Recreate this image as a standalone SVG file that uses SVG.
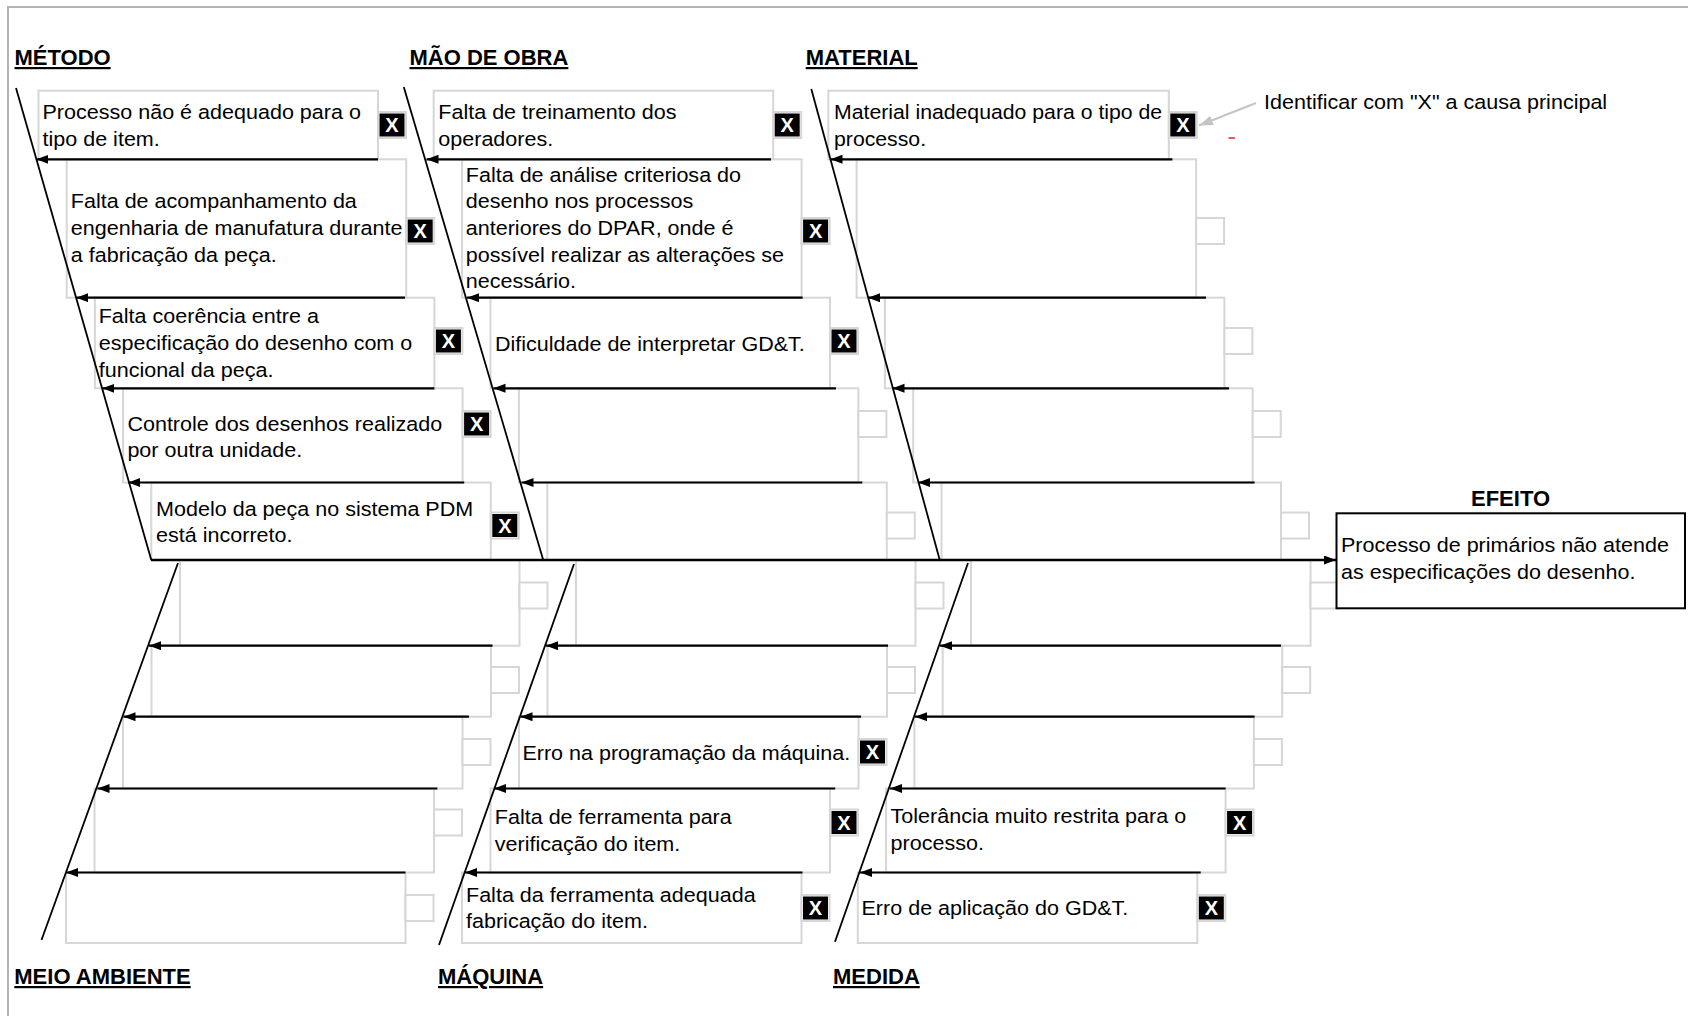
<svg xmlns="http://www.w3.org/2000/svg" width="1688" height="1016" viewBox="0 0 1688 1016">
<defs>
<marker id="ah" markerUnits="userSpaceOnUse" markerWidth="13" markerHeight="10" refX="12" refY="4.5" orient="auto"><path d="M0,0 L12,4.5 L0,9 z" fill="#000"/></marker>
<marker id="ahg" markerUnits="userSpaceOnUse" markerWidth="15" markerHeight="11" refX="14" refY="5" orient="auto"><path d="M0,0 L14,5 L0,10 z" fill="#c4c4c4"/></marker>
</defs>
<style>
.box{fill:none;stroke:#d6d6d6;stroke-width:2}
.mk{fill:#fff;stroke:#d6d6d6;stroke-width:2}
.mkf{fill:#000}
.xl{font-family:"Liberation Sans",Arial,sans-serif;font-weight:bold;font-size:20px;fill:#fff;text-anchor:middle}
.t{font-family:"Liberation Sans",Arial,sans-serif;font-size:19.5px;fill:#000}
.ttl{font-family:"Liberation Sans",Arial,sans-serif;font-weight:bold;font-size:22px;fill:#000;text-decoration:underline}
.eff{font-family:"Liberation Sans",Arial,sans-serif;font-weight:bold;font-size:22px;fill:#000}
.bone{stroke:#000;stroke-width:1.8;fill:none}
.rib{stroke:#000;stroke-width:2.2;fill:none;marker-end:url(#ah)}
</style>
<rect x="0" y="0" width="1688" height="1016" fill="#fff"/>
<path d="M8,1016 V7 H1688" fill="none" stroke="#b4b4b4" stroke-width="2"/>

<g id="titles">
<text class="ttl" x="14.5" y="65">MÉTODO</text>
<text class="ttl" x="409.5" y="65">MÃO DE OBRA</text>
<text class="ttl" x="805.7" y="65">MATERIAL</text>
<text class="ttl" x="14.3" y="984">MEIO AMBIENTE</text>
<text class="ttl" x="438" y="984">MÁQUINA</text>
<text class="ttl" x="833" y="984">MEDIDA</text>
</g>

<!-- MÉTODO -->
<g id="metodo-1"><rect class="box" x="38.5" y="90.7" width="339.5" height="68.6"/><rect class="mk" x="378" y="112" width="28" height="26"/><rect class="mkf" x="379.5" y="113.5" width="25" height="23"/><text class="xl" x="392" y="132.2">X</text>
<text class="t" transform="translate(42.5,119) scale(1.105,1)"><tspan x="0" y="0">Processo não é adequado para o</tspan><tspan x="0" y="26.7">tipo de item.</tspan></text></g>
<g id="metodo-2"><rect class="box" x="66.7" y="159.3" width="339.5" height="138.4"/><rect class="mk" x="406.2" y="218" width="28" height="26"/><rect class="mkf" x="407.7" y="219.5" width="25" height="23"/><text class="xl" x="420.2" y="238.2">X</text>
<text class="t" transform="translate(70.8,208.3) scale(1.105,1)"><tspan x="0" y="0">Falta de acompanhamento da</tspan><tspan x="0" y="26.7">engenharia de manufatura durante</tspan><tspan x="0" y="53.4">a fabricação da peça.</tspan></text></g>
<g id="metodo-3"><rect class="box" x="94.9" y="297.7" width="339.5" height="90.6"/><rect class="mk" x="434.4" y="328" width="28" height="26"/><rect class="mkf" x="435.9" y="329.5" width="25" height="23"/><text class="xl" x="448.4" y="348.2">X</text>
<text class="t" transform="translate(98.7,323.3) scale(1.105,1)"><tspan x="0" y="0">Falta coerência entre a</tspan><tspan x="0" y="26.7">especificação do desenho com o</tspan><tspan x="0" y="53.4">funcional da peça.</tspan></text></g>
<g id="metodo-4"><rect class="box" x="123.1" y="388.3" width="339.5" height="94.2"/><rect class="mk" x="462.6" y="411" width="28" height="26"/><rect class="mkf" x="464.1" y="412.5" width="25" height="23"/><text class="xl" x="476.6" y="431.2">X</text>
<text class="t" transform="translate(127.4,430.7) scale(1.105,1)"><tspan x="0" y="0">Controle dos desenhos realizado</tspan><tspan x="0" y="26.7">por outra unidade.</tspan></text></g>
<g id="metodo-5"><rect class="box" x="151.3" y="482.5" width="339.5" height="77.5"/><rect class="mk" x="490.8" y="512.5" width="28" height="26"/><rect class="mkf" x="492.3" y="514" width="25" height="23"/><text class="xl" x="504.8" y="532.7">X</text>
<text class="t" transform="translate(156.1,515.7) scale(1.105,1)"><tspan x="0" y="0">Modelo da peça no sistema PDM</tspan><tspan x="0" y="26.7">está incorreto.</tspan></text></g>

<!-- MÃO DE OBRA -->
<g id="mao-1"><rect class="box" x="433.7" y="90.7" width="339.5" height="68.6"/><rect class="mk" x="773.2" y="112" width="28" height="26"/><rect class="mkf" x="774.7" y="113.5" width="25" height="23"/><text class="xl" x="787.2" y="132.2">X</text>
<text class="t" transform="translate(438.3,119) scale(1.105,1)"><tspan x="0" y="0">Falta de treinamento dos</tspan><tspan x="0" y="26.7">operadores.</tspan></text></g>
<g id="mao-2"><rect class="box" x="462.1" y="159.3" width="339.5" height="138.4"/><rect class="mk" x="801.6" y="218" width="28" height="26"/><rect class="mkf" x="803.1" y="219.5" width="25" height="23"/><text class="xl" x="815.6" y="238.2">X</text>
<text class="t" transform="translate(465.8,181.7) scale(1.105,1)"><tspan x="0" y="0">Falta de análise criteriosa do</tspan><tspan x="0" y="26.7">desenho nos processos</tspan><tspan x="0" y="53.4">anteriores do DPAR, onde é</tspan><tspan x="0" y="80.1">possível realizar as alterações se</tspan><tspan x="0" y="106.8">necessário.</tspan></text></g>
<g id="mao-3"><rect class="box" x="490.5" y="297.7" width="339.5" height="90.6"/><rect class="mk" x="830" y="328" width="28" height="26"/><rect class="mkf" x="831.5" y="329.5" width="25" height="23"/><text class="xl" x="844" y="348.2">X</text>
<text class="t" transform="translate(494.9,350.7) scale(1.105,1)"><tspan x="0" y="0">Dificuldade de interpretar GD&amp;T.</tspan></text></g>
<g id="mao-4"><rect class="box" x="518.9" y="388.3" width="339.5" height="94.2"/><rect class="mk" x="858.4" y="411" width="28" height="26"/></g>
<g id="mao-5"><rect class="box" x="547.3" y="482.5" width="339.5" height="77.5"/><rect class="mk" x="886.8" y="512.5" width="28" height="26"/></g>

<!-- MATERIAL -->
<g id="material-1"><rect class="box" x="828.3" y="90.7" width="340.5" height="68.6"/><rect class="mk" x="1168.8" y="112" width="28" height="26"/><rect class="mkf" x="1170.3" y="113.5" width="25" height="23"/><text class="xl" x="1182.8" y="132.2">X</text>
<text class="t" transform="translate(834,119) scale(1.09,1)"><tspan x="0" y="0">Material inadequado para o tipo de</tspan><tspan x="0" y="26.7">processo.</tspan></text></g>
<g id="material-2"><rect class="box" x="856.6" y="159.3" width="339.5" height="138.4"/><rect class="mk" x="1196.1" y="218" width="28" height="26"/></g>
<g id="material-3"><rect class="box" x="884.9" y="297.7" width="339.5" height="90.6"/><rect class="mk" x="1224.4" y="328" width="28" height="26"/></g>
<g id="material-4"><rect class="box" x="913.2" y="388.3" width="339.5" height="94.2"/><rect class="mk" x="1252.7" y="411" width="28" height="26"/></g>
<g id="material-5"><rect class="box" x="941.5" y="482.5" width="339.5" height="77.5"/><rect class="mk" x="1281" y="512.5" width="28" height="26"/></g>

<!-- MEIO AMBIENTE -->
<g id="meio-1"><rect class="box" x="180" y="560" width="339.5" height="85.7"/><rect class="mk" x="519.5" y="582.5" width="28" height="26"/></g>
<g id="meio-2"><rect class="box" x="151.5" y="645.7" width="339.5" height="71"/><rect class="mk" x="491" y="667" width="28" height="26"/></g>
<g id="meio-3"><rect class="box" x="123" y="716.7" width="339.5" height="71.8"/><rect class="mk" x="462.5" y="739" width="28" height="26"/></g>
<g id="meio-4"><rect class="box" x="94.5" y="788.5" width="339.5" height="84"/><rect class="mk" x="434" y="809.5" width="28" height="26"/></g>
<g id="meio-5"><rect class="box" x="66" y="872.5" width="339.5" height="70.5"/><rect class="mk" x="405.5" y="895" width="28" height="26"/></g>

<!-- MÁQUINA -->
<g id="maquina-1"><rect class="box" x="576" y="560" width="339.5" height="85.7"/><rect class="mk" x="915.5" y="582.5" width="28" height="26"/></g>
<g id="maquina-2"><rect class="box" x="547.5" y="645.7" width="339.5" height="71"/><rect class="mk" x="887" y="667" width="28" height="26"/></g>
<g id="maquina-3"><rect class="box" x="519" y="716.7" width="339.5" height="71.8"/><rect class="mk" x="858.5" y="739" width="28" height="26"/><rect class="mkf" x="860" y="740.5" width="25" height="23"/><text class="xl" x="872.5" y="759.2">X</text>
<text class="t" transform="translate(522.4,760) scale(1.105,1)"><tspan x="0" y="0">Erro na programação da máquina.</tspan></text></g>
<g id="maquina-4"><rect class="box" x="490.5" y="788.5" width="339.5" height="84"/><rect class="mk" x="830" y="809.5" width="28" height="26"/><rect class="mkf" x="831.5" y="811" width="25" height="23"/><text class="xl" x="844" y="829.7">X</text>
<text class="t" transform="translate(494.8,824) scale(1.105,1)"><tspan x="0" y="0">Falta de ferramenta para</tspan><tspan x="0" y="26.7">verificação do item.</tspan></text></g>
<g id="maquina-5"><rect class="box" x="462" y="872.5" width="339.5" height="70.5"/><rect class="mk" x="801.5" y="895" width="28" height="26"/><rect class="mkf" x="803" y="896.5" width="25" height="23"/><text class="xl" x="815.5" y="915.2">X</text>
<text class="t" transform="translate(466,901.7) scale(1.105,1)"><tspan x="0" y="0">Falta da ferramenta adequada</tspan><tspan x="0" y="26.7">fabricação do item.</tspan></text></g>

<!-- MEDIDA -->
<g id="medida-1"><rect class="box" x="971" y="560" width="339.5" height="85.7"/><rect class="mk" x="1310.5" y="582.5" width="28" height="26"/></g>
<g id="medida-2"><rect class="box" x="942.7" y="645.7" width="339.5" height="71"/><rect class="mk" x="1282.2" y="667" width="28" height="26"/></g>
<g id="medida-3"><rect class="box" x="914.4" y="716.7" width="339.5" height="71.8"/><rect class="mk" x="1253.9" y="739" width="28" height="26"/></g>
<g id="medida-4"><rect class="box" x="886.1" y="788.5" width="339.5" height="84"/><rect class="mk" x="1225.6" y="809.5" width="28" height="26"/><rect class="mkf" x="1227.1" y="811" width="25" height="23"/><text class="xl" x="1239.6" y="829.7">X</text>
<text class="t" transform="translate(890.6,823) scale(1.105,1)"><tspan x="0" y="0">Tolerância muito restrita para o</tspan><tspan x="0" y="26.7">processo.</tspan></text></g>
<g id="medida-5"><rect class="box" x="857.8" y="872.5" width="339.5" height="70.5"/><rect class="mk" x="1197.3" y="895" width="28" height="26"/><rect class="mkf" x="1198.8" y="896.5" width="25" height="23"/><text class="xl" x="1211.3" y="915.2">X</text>
<text class="t" transform="translate(861.5,915) scale(1.105,1)"><tspan x="0" y="0">Erro de aplicação do GD&amp;T.</tspan></text></g>

<!-- connectors -->
<g id="connectors">
<line class="bone" x1="16" y1="88" x2="151.3" y2="560"/>
<line class="bone" x1="403.8" y1="87" x2="543.5" y2="561"/>
<line class="bone" x1="811.3" y1="89" x2="940" y2="561"/>
<line class="bone" x1="178" y1="563" x2="41.5" y2="940"/>
<line class="bone" x1="574" y1="564" x2="439" y2="945"/>
<line class="bone" x1="968" y1="563" x2="835" y2="941.7"/>

<line class="rib" x1="378" y1="159.3" x2="36.4" y2="159.3"/>
<line class="rib" x1="405" y1="297.7" x2="76.3" y2="297.7"/>
<line class="rib" x1="434.4" y1="388.3" x2="102.3" y2="388.3"/>
<line class="rib" x1="464.2" y1="482.5" x2="128.3" y2="482.5"/>

<line class="rib" x1="771" y1="159.3" x2="426.5" y2="159.3"/>
<line class="rib" x1="802.6" y1="297.7" x2="467" y2="297.7"/>
<line class="rib" x1="836" y1="388.3" x2="493.5" y2="388.3"/>
<line class="rib" x1="862.3" y1="482.5" x2="521.5" y2="482.5"/>

<line class="rib" x1="1172.4" y1="159.3" x2="830.5" y2="159.3"/>
<line class="rib" x1="1206" y1="297.7" x2="868" y2="297.7"/>
<line class="rib" x1="1229" y1="388.3" x2="892.5" y2="388.3"/>
<line class="rib" x1="1254.6" y1="482.5" x2="918" y2="482.5"/>

<line class="rib" x1="492.5" y1="645.7" x2="149" y2="645.7"/>
<line class="rib" x1="469" y1="716.7" x2="123.5" y2="716.7"/>
<line class="rib" x1="437.4" y1="788.5" x2="97.5" y2="788.5"/>
<line class="rib" x1="405.5" y1="872.5" x2="66" y2="872.5"/>

<line class="rib" x1="888" y1="645.7" x2="546" y2="645.7"/>
<line class="rib" x1="861" y1="716.7" x2="520.5" y2="716.7"/>
<line class="rib" x1="835.2" y1="788.5" x2="494" y2="788.5"/>
<line class="rib" x1="802.5" y1="872.5" x2="465" y2="872.5"/>

<line class="rib" x1="1281" y1="645.7" x2="940" y2="645.7"/>
<line class="rib" x1="1254.6" y1="716.7" x2="915" y2="716.7"/>
<line class="rib" x1="1225.6" y1="788.5" x2="890" y2="788.5"/>
<line class="rib" x1="1200.7" y1="872.5" x2="860" y2="872.5"/>

<line x1="151" y1="560" x2="1336" y2="560" stroke="#000" stroke-width="2.5" marker-end="url(#ah)"/>
<line x1="1256" y1="103" x2="1199" y2="125.5" stroke="#c4c4c4" stroke-width="2" marker-end="url(#ahg)"/>
</g>

<g id="efeito">
<text class="eff" x="1471" y="506">EFEITO</text>
<rect x="1336.5" y="513.3" width="348.5" height="95" fill="#fff" stroke="#000" stroke-width="2"/>
<text class="t" transform="translate(1341,552) scale(1.105,1)"><tspan x="0" y="0">Processo de primários não atende</tspan><tspan x="0" y="26.7">as especificações do desenho.</tspan></text>
</g>

<g id="nota">
<text class="t" transform="translate(1264,109.3) scale(1.105,1)">Identificar com "X" a causa principal</text>
<line x1="1228.5" y1="138" x2="1235" y2="138" stroke="#e00000" stroke-width="1.3"/>
</g>
</svg>
